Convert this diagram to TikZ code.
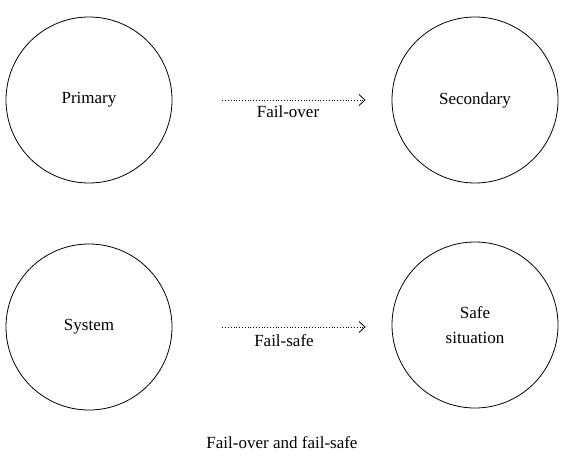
\documentclass[tikz,border=0pt]{standalone}
\usepackage{fontspec}
\setmainfont{Liberation Serif}
\usetikzlibrary{arrows.meta}

\begin{document}
\begin{tikzpicture}[
  x=1pt, y=1pt,
  state/.style={draw, circle, line width=0.8pt, minimum size=166pt, align=center, font=\fontsize{17}{25}\selectfont},
  failarrow/.style={dotted, line width=0.8pt, -{Straight Barb[length=6pt,width=11pt]}, shorten <=50pt, shorten >=26pt},
  lbl/.style={font=\fontsize{17}{20}\selectfont},
]
\useasboundingbox (0,0) rectangle (569,461);
\node[state] (primary) at (89,361) {Primary};
\node[state] (secondary) at (475,361) {Secondary};
\node[state] (system) at (89,134) {System};
\node[state] (safe) at (475,136) {Safe\\situation};
\draw[failarrow] (primary) -- node[lbl, below=2pt, xshift=6pt] (failover) {Fail-over} (secondary);
\draw[failarrow] (system) -- node[lbl, below=4pt, xshift=2pt] (failsafe) {Fail-safe} (safe.west |- system);
\node[lbl] (caption) at (282,18) {Fail-over and fail-safe};
\end{tikzpicture}
\end{document}
